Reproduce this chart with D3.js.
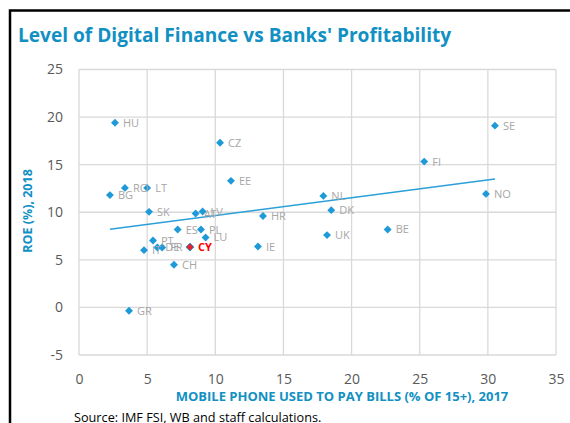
<!DOCTYPE html>
<html><head><meta charset="utf-8">
<script src="https://cdn.jsdelivr.net/npm/d3@7"></script>
<style>body{margin:0;background:#fff;} svg{display:block;}</style>
</head><body>
<svg id="c" width="570" height="423"></svg>
<script>
const countries = ["HU","CZ","EE","RO","LT","BG","SK","AT","LV","ES","PL","LU","PT","IT","DE","FR","CY","CH","IE","HR","GR","NL","DK","UK","BE","FI","SE","NO"];
const mobilePay = [2.64,10.35,11.15,3.37,5.0,2.27,5.14,8.56,9.07,7.24,8.95,9.29,5.43,4.77,5.75,6.1,8.14,6.97,13.13,13.5,3.67,17.93,18.51,18.2,22.65,25.33,30.52,29.86];
const roe = [19.4,17.3,13.3,12.56,12.56,11.8,10.04,9.86,10.07,8.18,8.18,7.35,7.03,6.02,6.3,6.3,6.34,4.48,6.4,9.6,-0.35,11.72,10.22,7.6,8.19,15.32,19.1,11.93];
const xTicks = [0,5,10,15,20,25,30,35];
const yTicks = [-5,0,5,10,15,20,25];
const highlight = "CY";

const svg = d3.select("#c");
const blue = "#1190c4";
const x = d3.scaleLinear().domain([0,35]).range([79,556]);
const y = d3.scaleLinear().domain([-5,25]).range([355,69.5]);

// frame
svg.append("path").attr("d","M10,423 L10,10.5 L570,10.5").attr("fill","none").attr("stroke","#000").attr("stroke-width",2.5);

svg.append("text").attr("x",18).attr("y",42).text("Level of Digital Finance vs Banks' Profitability")
  .attr("font-family","Open Sans, sans-serif").attr("font-weight","bold").attr("font-size",19.1).attr("fill",blue);

// grid
svg.append("g").selectAll("line").data(yTicks).join("line")
  .attr("x1",x(0)).attr("x2",x(35)).attr("y1",d=>y(d)).attr("y2",d=>y(d))
  .attr("stroke","#d9d9d9").attr("stroke-width",1.3);
svg.append("g").selectAll("line").data(xTicks).join("line")
  .attr("y1",y(-5)).attr("y2",y(25)).attr("x1",d=>x(d)).attr("x2",d=>x(d))
  .attr("stroke","#d9d9d9").attr("stroke-width",1.3);

// axes via d3 axis (labels only)
const xAxis = svg.append("g").attr("transform",`translate(0,${y(-5)})`)
  .call(d3.axisBottom(x).tickValues(xTicks).tickSize(0).tickPadding(19).tickFormat(d3.format("d")));
const yAxis = svg.append("g").attr("transform",`translate(${x(0)},0)`)
  .call(d3.axisLeft(y).tickValues(yTicks).tickSize(0).tickPadding(16).tickFormat(d=>d<0?"-"+Math.abs(d):d));
[xAxis,yAxis].forEach(a=>{
  a.select(".domain").remove();
  a.selectAll("text").attr("font-family","Open Sans, sans-serif").attr("font-size",14).attr("fill","#595959");
});

// trend line (least squares)
const n = mobilePay.length;
const mx = d3.mean(mobilePay), my = d3.mean(roe);
let sxy=0,sxx=0;
for(let i=0;i<n;i++){sxy+=(mobilePay[i]-mx)*(roe[i]-my);sxx+=(mobilePay[i]-mx)**2;}
const slope = sxy/sxx, icpt = my-slope*mx;
const x0 = d3.min(mobilePay), x1 = d3.max(mobilePay);
svg.append("line").attr("x1",x(x0)).attr("y1",y(icpt+slope*x0)).attr("x2",x(x1)).attr("y2",y(icpt+slope*x1))
  .attr("stroke","#2a9fd8").attr("stroke-width",1.5);

// points
const pts = countries.map((c,i)=>({c,x:mobilePay[i],y:roe[i]}));
const diamond = d3.symbol().type(d3.symbolDiamond2).size(40);
svg.append("g").selectAll("path").data(pts).join("path")
  .attr("d",diamond).attr("transform",d=>`translate(${x(d.x)},${y(d.y)})`)
  .attr("fill",d=>d.c===highlight?"#e8202a":"#1f9ad8")
  .attr("stroke",d=>d.c===highlight?"#1f9ad8":"none").attr("stroke-width",1);
svg.append("g").selectAll("text").data(pts).join("text")
  .attr("x",d=>x(d.x)+8).attr("y",d=>y(d.y)+4)
  .text(d=>d.c)
  .attr("font-family","Open Sans, sans-serif").attr("font-size",11)
  .attr("font-weight",d=>d.c===highlight?"bold":"normal")
  .attr("fill",d=>d.c===highlight?"#ff0000":"#a6a6a6");

// axis titles
svg.append("text").attr("x",342).attr("y",401).attr("text-anchor","middle")
  .text("MOBILE PHONE USED TO PAY BILLS (% OF 15+), 2017")
  .attr("font-family","Open Sans, sans-serif").attr("font-weight","bold").attr("font-size",13).attr("fill",blue);
svg.append("text").attr("transform","translate(32,211) rotate(-90)").attr("text-anchor","middle")
  .text("ROE (%), 2018")
  .attr("font-family","Open Sans, sans-serif").attr("font-weight","bold").attr("font-size",12.5).attr("fill",blue);

svg.append("text").attr("x",74).attr("y",422).text("Source: IMF FSI, WB and staff calculations.")
  .attr("font-family","Open Sans, sans-serif").attr("font-size",12.7).attr("fill","#000");
</script>
</body></html>
